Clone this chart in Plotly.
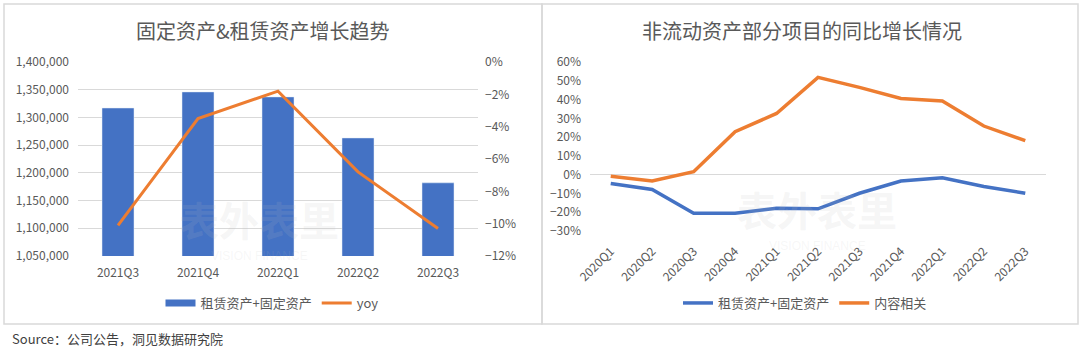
import plotly.graph_objects as go

# ---------------- data ----------------
left_categories = ["2021Q3", "2021Q4", "2022Q1", "2022Q2", "2022Q3"]
left_assets = [1317000, 1346000, 1337000, 1263000, 1182000]
left_yoy = [-0.101, -0.035, -0.018, -0.068, -0.103]

right_categories = ["2020Q1", "2020Q2", "2020Q3", "2020Q4", "2021Q1", "2021Q2",
                    "2021Q3", "2021Q4", "2022Q1", "2022Q2", "2022Q3"]
right_assets_growth = [-0.047, -0.079, -0.205, -0.205, -0.179, -0.182,
                       -0.099, -0.034, -0.016, -0.063, -0.099]
right_content_growth = [-0.008, -0.034, 0.016, 0.229, 0.326, 0.518,
                        0.465, 0.406, 0.392, 0.259, 0.181]

left_title = "固定资产&租赁资产增长趋势"
right_title = "非流动资产部分项目的同比增长情况"
source_text = "Source：公司公告，洞见数据研究院"

BLUE = "#4472C4"
ORANGE = "#ED7D31"
TXT = "#595959"
GRID = "#D9D9D9"
FONT = "Noto Sans CJK SC, Liberation Sans, sans-serif"

W, H = 1080, 350


def px_x(v):
    return v / W


def px_y(v):
    return 1 - v / H


fig = go.Figure()

fig.add_trace(go.Bar(
    x=left_categories, y=left_assets, name="租赁资产+固定资产",
    marker_color=BLUE, xaxis="x", yaxis="y", showlegend=False,
))
# legend entry for the bars drawn as a wide flat swatch (as in the reference)
fig.add_trace(go.Scatter(
    x=[None], y=[None], name="租赁资产+固定资产", mode="lines",
    line=dict(color=BLUE, width=7), xaxis="x", yaxis="y", legend="legend",
))
fig.add_trace(go.Scatter(
    x=left_categories, y=left_yoy, name="yoy", mode="lines",
    line=dict(color=ORANGE, width=3), xaxis="x", yaxis="y2", legend="legend",
))
fig.add_trace(go.Scatter(
    x=right_categories, y=right_assets_growth, name="租赁资产+固定资产", mode="lines",
    line=dict(color=BLUE, width=3.5), xaxis="x2", yaxis="y3", legend="legend2",
))
fig.add_trace(go.Scatter(
    x=right_categories, y=right_content_growth, name="内容相关", mode="lines",
    line=dict(color=ORANGE, width=3.5), xaxis="x2", yaxis="y3", legend="legend2",
))

tickfont = dict(family=FONT, size=12, color=TXT)

fig.update_layout(
    width=W, height=H,
    margin=dict(l=0, r=0, t=0, b=0, autoexpand=False),
    paper_bgcolor="white", plot_bgcolor="rgba(0,0,0,0)",
    bargap=0.6,
    font=dict(family=FONT, color=TXT),
    xaxis=dict(
        domain=[px_x(78), px_x(478)], range=[-0.5, 4.5], type="category",
        showgrid=False, showline=False, zeroline=False, tickfont=tickfont,
        ticks="", ticklabelstandoff=8, anchor="y", automargin=False,
    ),
    yaxis=dict(
        domain=[px_y(256), px_y(62)], range=[1050000, 1400000], dtick=50000,
        tickformat=",d", showgrid=True, gridcolor=GRID, gridwidth=1,
        zeroline=False, showline=False, tickfont=tickfont, ticklabelstandoff=8,
        anchor="x", automargin=False,
    ),
    yaxis2=dict(
        domain=[px_y(256), px_y(62)], range=[-0.12, 0], dtick=0.02,
        tickformat=".0%", overlaying="y", side="right", showgrid=False,
        zeroline=False, showline=False, tickfont=tickfont, ticklabelstandoff=6,
        anchor="x", automargin=False,
    ),
    xaxis2=dict(
        domain=[px_x(590), px_x(1046)], range=[-0.5, 10.5], type="category",
        showgrid=False, showline=False, zeroline=False, tickfont=tickfont,
        tickangle=-45, ticks="", ticklabelstandoff=10, anchor="y3", automargin=False,
    ),
    yaxis3=dict(
        domain=[px_y(231), px_y(62)], range=[-0.3, 0.6], dtick=0.1,
        tickformat=".0%", showgrid=False, zeroline=True, zerolinecolor=GRID,
        zerolinewidth=1, showline=False, tickfont=tickfont, ticklabelstandoff=8,
        anchor="x2", automargin=False,
    ),
    legend=dict(
        orientation="h", x=px_x(272), y=px_y(303), xanchor="center", yanchor="middle",
        font=dict(family=FONT, size=13, color=TXT), bgcolor="rgba(0,0,0,0)",
        itemwidth=30, tracegroupgap=0,
    ),
    legend2=dict(
        orientation="h", x=px_x(805), y=px_y(303), xanchor="center", yanchor="middle",
        font=dict(family=FONT, size=13, color=TXT), bgcolor="rgba(0,0,0,0)",
        itemwidth=30,
    ),
    showlegend=True,
)

# panel borders
for x0, x1 in [(4, 542), (542, 1078)]:
    fig.add_shape(type="rect", xref="paper", yref="paper",
                  x0=px_x(x0), x1=px_x(x1), y0=px_y(324), y1=px_y(4),
                  line=dict(color=GRID, width=1.5), fillcolor="rgba(0,0,0,0)",
                  layer="below")

# titles
fig.add_annotation(text=left_title, xref="paper", yref="paper",
                   x=px_x(263), y=px_y(30), xanchor="center", yanchor="middle",
                   showarrow=False, font=dict(family=FONT, size=20, color=TXT))
fig.add_annotation(text=right_title, xref="paper", yref="paper",
                   x=px_x(802), y=px_y(30), xanchor="center", yanchor="middle",
                   showarrow=False, font=dict(family=FONT, size=20, color=TXT))

# source
fig.add_annotation(text=source_text, xref="paper", yref="paper",
                   x=px_x(10), y=px_y(338), xanchor="left", yanchor="middle",
                   showarrow=False, font=dict(family=FONT, size=13, color="#404040"))

# faint watermarks
for cx, cy, cy2 in [(259, 219, 256), (817, 209, 246)]:
    fig.add_annotation(text="<b>表外表里</b>", xref="paper", yref="paper",
                       x=px_x(cx), y=px_y(cy), xanchor="center", yanchor="middle",
                       showarrow=False,
                       font=dict(family=FONT, size=40, color="rgba(190,190,190,0.14)"))
    fig.add_annotation(text="VISION FINANCE", xref="paper", yref="paper",
                       x=px_x(cx), y=px_y(cy2), xanchor="center", yanchor="middle",
                       showarrow=False,
                       font=dict(family="Liberation Sans", size=12, color="rgba(190,190,190,0.12)"))

fig.write_html("out.html")
